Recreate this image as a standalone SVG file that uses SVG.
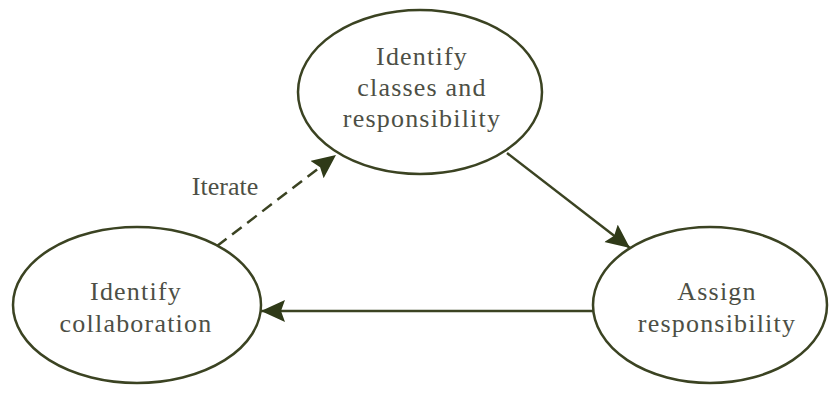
<svg xmlns="http://www.w3.org/2000/svg" width="829" height="393" viewBox="0 0 829 393">
  <defs>
    <style>
      .node ellipse { fill: #ffffff; stroke: #3b4322; stroke-width: 2.5; }
      .label { font-family: "Liberation Serif", "Times New Roman", serif; font-size: 26px; fill: #4d4f45; text-anchor: middle; letter-spacing: 1.2px; }
      .edge { stroke: #3b4322; stroke-width: 2.5; fill: none; }
      .dashed { stroke-dasharray: 12 7; }
    </style>
    <marker id="arrow" markerUnits="userSpaceOnUse" markerWidth="26" markerHeight="24" refX="24" refY="11" orient="auto">
      <path d="M0,0 L24,11 L0,22 L4,11 Z" fill="#2f3a18"/>
    </marker>
  </defs>
  <rect width="829" height="393" fill="#ffffff"/>

  <g id="connectors">
    <line class="edge" x1="507" y1="153" x2="630" y2="248" marker-end="url(#arrow)"/>
    <line class="edge" x1="593" y1="311" x2="261" y2="311" marker-end="url(#arrow)"/>
    <line class="edge dashed" x1="217" y1="246" x2="336" y2="155" marker-end="url(#arrow)"/>
  </g>

  <g id="node-identify-classes" class="node">
    <ellipse cx="420" cy="92" rx="122" ry="82"/>
    <text class="label" x="422" y="65">Identify</text>
    <text class="label" x="422" y="96">classes and</text>
    <text class="label" x="422" y="127">responsibility</text>
  </g>

  <g id="node-assign" class="node">
    <ellipse cx="710" cy="305" rx="117" ry="78"/>
    <text class="label" x="717" y="300">Assign</text>
    <text class="label" x="717" y="332">responsibility</text>
  </g>

  <g id="node-collaboration" class="node">
    <ellipse cx="137" cy="305" rx="124" ry="78"/>
    <text class="label" x="136" y="300">Identify</text>
    <text class="label" x="136" y="332">collaboration</text>
  </g>

  <g id="edge-label">
    <text class="label" x="225" y="195" style="letter-spacing:0">Iterate</text>
  </g>
</svg>
